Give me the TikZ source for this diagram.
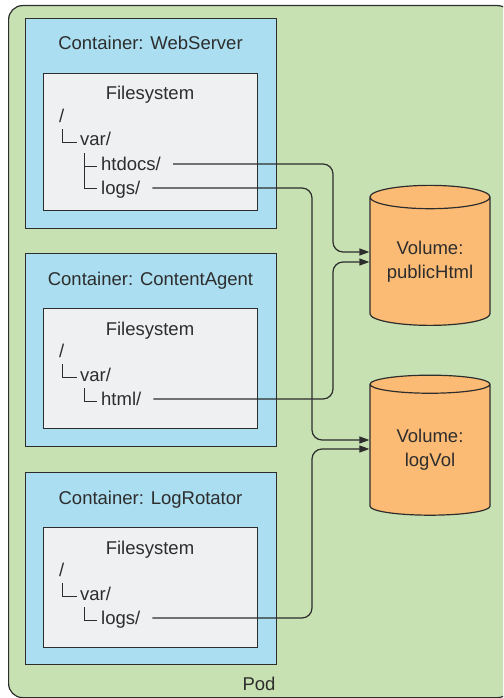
\documentclass[tikz,border=0pt]{standalone}
\usepackage{fontspec}
\setmainfont{Liberation Sans}
\usepackage{xcolor}
\usepackage{tikz}
\usetikzlibrary{shapes.geometric,arrows.meta,positioning}
\definecolor{podgreen}{RGB}{199,225,179}
\definecolor{ctrblue}{RGB}{170,222,240}
\definecolor{fsgray}{RGB}{239,240,242}
\definecolor{volorange}{RGB}{252,187,116}
\definecolor{inkgray}{RGB}{45,45,45}

\begin{document}
\begin{tikzpicture}[
    x=1pt, y=-1pt,
    font=\fontsize{18.5}{24}\selectfont,
    pod/.style={draw=inkgray, fill=podgreen, line width=1.2pt, rounded corners=14pt, anchor=north west, inner sep=0pt},
    container/.style={draw=inkgray, fill=ctrblue, line width=1.2pt, anchor=north west, inner sep=0pt},
    filesys/.style={draw=inkgray, fill=fsgray, line width=1.2pt, anchor=north west, inner sep=0pt},
    volume/.style={cylinder, shape border rotate=90, aspect=0.27, draw=inkgray, fill=volorange, line width=1.2pt, minimum width=120pt, minimum height=140pt, align=center, inner sep=0pt, text=inkgray},
    title/.style={anchor=base, inner sep=0pt, text=inkgray},
    entry/.style={anchor=base west, inner sep=0pt, text height=12pt, text depth=0pt, text=inkgray},
    tree/.style={draw=inkgray, line width=1pt},
    link/.style={draw=inkgray, line width=1.2pt, rounded corners=10pt, -{Triangle[length=10pt,width=7pt]}}
]
\useasboundingbox (0,0) rectangle (503,698);
\clip (0,0) rectangle (503,698);

% Pod
\node[pod, minimum width=503pt, minimum height=692pt] (pod) at (8,5) {};
\node[title] (podlabel) at (259,690) {Pod};

% Containers
\node[container, minimum width=251pt, minimum height=210pt] (web) at (25,18) {};
\node[container, minimum width=251pt, minimum height=193pt] (agent) at (25,253) {};
\node[container, minimum width=251pt, minimum height=192pt] (rot) at (25,472) {};
\node[title] (webtitle) at (150.5,50) {Container: WebServer};
\node[title] (agenttitle) at (150.5,285) {Container: ContentAgent};
\node[title] (rottitle) at (150.5,504) {Container: LogRotator};

% Filesystems
\node[filesys, minimum width=214pt, minimum height=137pt] (webfs) at (43,73) {};
\node[filesys, minimum width=214pt, minimum height=120pt] (agentfs) at (43,308) {};
\node[filesys, minimum width=214pt, minimum height=120pt] (rotfs) at (43,527) {};
\node[title] (webfstitle) at (150,100) {Filesystem};
\node[title] (agentfstitle) at (150,335) {Filesystem};
\node[title] (rotfstitle) at (150,554) {Filesystem};

% Entries - WebServer
\node[entry] (webroot) at (59,122) {/};
\node[entry] (webvar) at (80,146) {var/};
\node[entry] (htdocs) at (101,170) {htdocs/};
\node[entry] (weblogs) at (101,194) {logs/};
\draw[tree] (62,129) -- (62,142) -- (77,142);
\draw[tree] (84,153) -- (84,188) -- (97,188);
\draw[tree] (84,166) -- (97,166);

% Entries - ContentAgent
\node[entry] (agentroot) at (59,357) {/};
\node[entry] (agentvar) at (80,381) {var/};
\node[entry] (html) at (101,405) {html/};
\draw[tree] (62,364) -- (62,377) -- (77,377);
\draw[tree] (84,388) -- (84,401) -- (97,401);

% Entries - LogRotator
\node[entry] (rotroot) at (59,576) {/};
\node[entry] (rotvar) at (80,600) {var/};
\node[entry] (rotlogs) at (101,624) {logs/};
\draw[tree] (62,583) -- (62,596) -- (77,596);
\draw[tree] (84,607) -- (84,620) -- (97,620);

% Volumes
\node[volume] (pubvol) at (430,261.5) {Volume:\\publicHtml};
\node[volume] (logvol) at (430,450) {Volume:\\logVol};

% Arrows
\coordinate (colA) at (333,0);
\coordinate (colB) at (312,0);
\coordinate (pubin1) at ([yshift=9.5pt]pubvol.west);
\coordinate (pubin2) at ([yshift=-0.5pt]pubvol.west);
\coordinate (login1) at ([yshift=10pt]logvol.west);
\coordinate (login2) at ([yshift=1pt]logvol.west);
\draw[link] ([xshift=12pt]htdocs.east) -| (colA |- pubin1) -- (pubin1);
\draw[link] ([xshift=12pt]html.east) -| (colA |- pubin2) -- (pubin2);
\draw[link] ([xshift=12pt]weblogs.east) -| (colB |- login1) -- (login1);
\draw[link] ([xshift=12pt]rotlogs.east) -| (colB |- login2) -- (login2);

\end{tikzpicture}
\end{document}
